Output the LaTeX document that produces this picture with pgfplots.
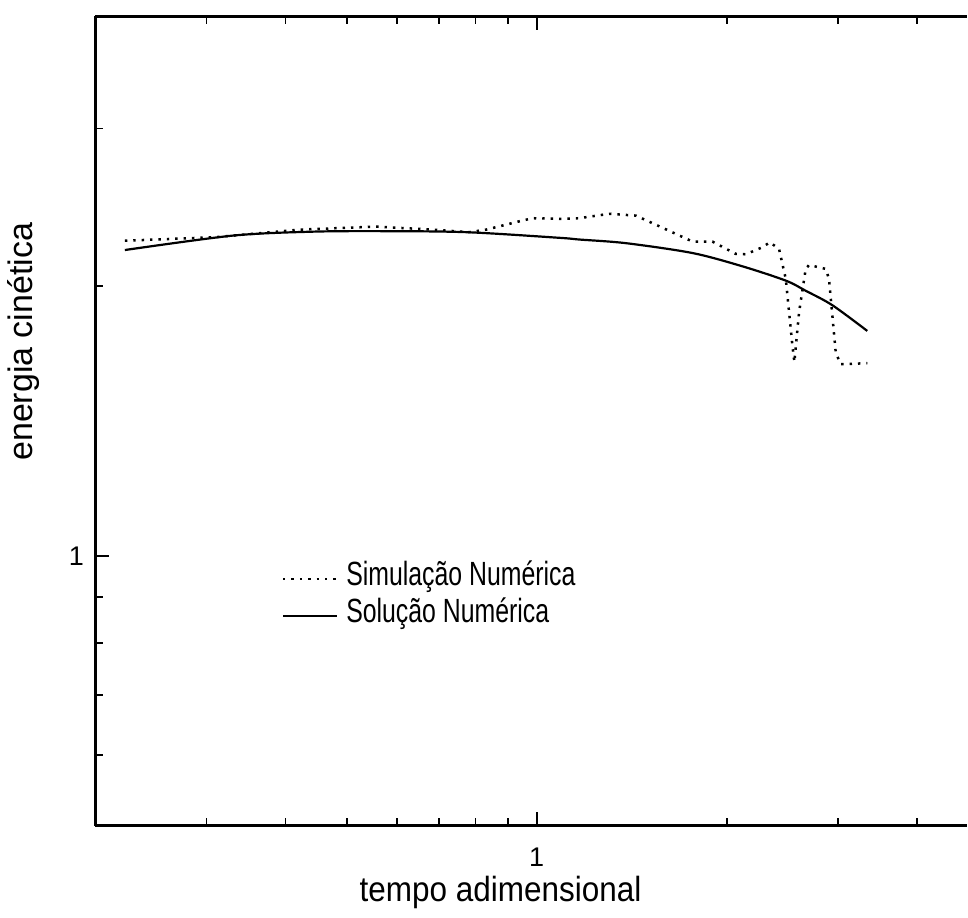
\documentclass[border=0pt]{standalone}
\usepackage{pgfplots}
\pgfplotsset{compat=1.18}
\usepackage{fontspec}
\setmainfont{Liberation Sans}
\newfontfamily\narrowfont[FakeStretch=0.74]{Liberation Sans}
\newfontfamily\semifont[FakeStretch=0.9]{Liberation Sans}
\begin{document}
\begin{tikzpicture}
\begin{axis}[
  at={(0pt,0pt)}, anchor=south west,
  scale only axis, width=436.1pt, height=405pt,
  xmode=log, ymode=log,
  xmin=0.2, xmax=4.8, ymin=0.5, ymax=4,
  axis x line*=box, axis y line*=left,
  xtick={1}, xticklabels={1},
  ytick={1}, yticklabels={1},
  minor xtick={0.3,0.4,0.5,0.6,0.7,0.8,0.9,2,3,4},
  minor ytick={0.6,0.7,0.8,0.9,2,3},
  tick align=inside,
  major tick length=7pt, minor tick length=3.6pt,
  axis line style={line width=1.3pt, black},
  tick style={line width=0.9pt, black},
  xticklabel style={font=\fontsize{13.5}{15}\selectfont, anchor=center, yshift=-15.75pt},
  yticklabel style={font=\fontsize{13.5}{15}\selectfont, anchor=center, xshift=-9.5pt},
  xlabel={tempo adimensional},
  ylabel={energia cinética},
  every axis x label/.style={at={(axis description cs:0.465,-0.0932)}, anchor=base, font=\semifont\fontsize{17.5}{20}\selectfont},
  every axis y label/.style={at={(axis description cs:-0.0717,0.598)}, anchor=base, rotate=90, font=\fontsize{17}{20}\selectfont},
  legend style={at={(axis description cs:0.2135,0.2823)}, anchor=west, draw=none, fill=none, inner sep=0pt,
    row sep=7.5pt, column sep=4pt,
    nodes={inner sep=0pt, text height=9pt, text depth=2pt, font=\narrowfont\fontsize{16.8}{18}\selectfont}},
  legend cell align=left,
  legend image code/.code={\draw[#1] (0pt,0pt) -- (27pt,0pt);},
]
\addplot[black, line width=1.25pt, dash pattern=on 1.2pt off 3pt] coordinates {
(0.2227,2.248) (0.3110,2.269) (0.4211,2.313) (0.5570,2.331) (0.6839,2.313)
(0.7825,2.298) (0.8316,2.313) (0.9389,2.363) (0.9845,2.382) (1.086,2.378)
(1.168,2.382) (1.303,2.409) (1.436,2.398) (1.564,2.333) (1.766,2.243)
(1.899,2.243) (2.068,2.173) (2.145,2.171) (2.279,2.211) (2.341,2.239)
(2.421,2.201) (2.481,2.038) (2.542,1.716) (2.560,1.646) (2.604,1.870)
(2.668,2.091) (2.701,2.112) (2.870,2.091) (2.905,2.038) (2.977,1.687)
(3.031,1.637) (3.340,1.641)
};
\addlegendentry{Simulação Numérica}
\addplot[black, line width=1.1pt, smooth] coordinates {
(0.2227,2.195) (0.3304,2.278) (0.4416,2.301) (0.5699,2.304) (0.7738,2.298)
(1.086,2.265) (1.168,2.255) (1.385,2.234) (1.766,2.178) (2.118,2.105)
(2.481,2.029) (2.668,1.977) (2.940,1.905) (3.340,1.783)
};
\addlegendentry{Solução Numérica}
\end{axis}
\path (-47.75pt,-45.75pt) rectangle (436.1pt,413.25pt);
\end{tikzpicture}
\end{document}
